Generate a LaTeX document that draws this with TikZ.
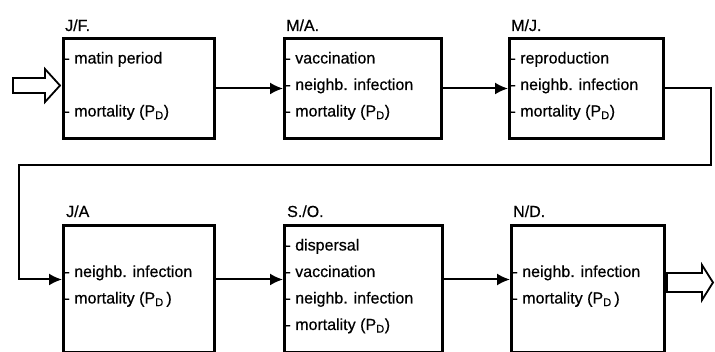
\documentclass[tikz,border=0pt]{standalone}
\usepackage{fontspec}
\setmainfont{Liberation Sans}
\newfontfamily\txtfont{Liberation Sans}[FakeBold=0.5]
\usetikzlibrary{arrows.meta}
\newcommand\bxtext[3]{\parbox[c][#2pt][t]{#1pt}{\txtfont\fontsize{16}{26.5}\selectfont\rule{0pt}{25pt}\hspace{1pt}#3}}
\newcommand\PD{(P\textsubscript{D})}
\tikzset{
  box/.style={draw, line width=3pt, inner sep=0pt, anchor=north west},
  lab/.style={anchor=base west, inner sep=0pt, font=\txtfont\fontsize{16}{16}\selectfont},
  conn/.style={line width=2pt, -{Latex[length=13pt,width=12pt]}},
  fat/.style={draw, line width=1.8pt, fill=white, line join=miter},
}
\begin{document}
\begin{tikzpicture}[x=1pt,y=-1pt]
\fill[white] (0,0) rectangle (715,352);
\useasboundingbox (0,0) rectangle (715,352);
% top row
\node[box] (b1) at (62,37) {\bxtext{151}{100}{- matin period\\ \mbox{}\\ \hspace*{1pt}- mortality \PD}};
\node[box] (b2) at (283,37) {\bxtext{157}{100}{- vaccination\\ \hspace*{1pt}- neighb. infection\\ \hspace*{1pt}- mortality \PD}};
\node[box] (b3) at (508,37) {\bxtext{154}{100}{- reproduction\\ \hspace*{1pt}- neighb. infection\\ \hspace*{1pt}- mortality \PD}};
% bottom row
\node[box] (b4) at (62,224) {\bxtext{151}{127}{\mbox{}\\ \hspace*{1pt}- neighb. infection\\ \hspace*{1pt}- mortality (P\textsubscript{D}\,)}};
\node[box] (b5) at (283,224) {\bxtext{158}{127}{- dispersal\\ \hspace*{1pt}- vaccination\\ \hspace*{1pt}- neighb. infection\\ \hspace*{1pt}- mortality \PD}};
\node[box] (b6) at (510,224) {\bxtext{153}{127}{\mbox{}\\ \hspace*{1pt}- neighb. infection\\ \hspace*{1pt}- mortality (P\textsubscript{D}\,)}};
% labels
\node[lab] (l1) at ([xshift=3pt,yshift=6pt]b1.north west) {J/F.};
\node[lab] (l2) at ([xshift=3pt,yshift=6pt]b2.north west) {M/A.};
\node[lab] (l3) at ([xshift=3pt,yshift=6pt]b3.north west) {M/J.};
\node[lab] (l4) at ([xshift=4pt,yshift=7pt]b4.north west) {J/A};
\node[lab] (l5) at ([xshift=4pt,yshift=7pt]b5.north west) {S./O.};
\node[lab] (l6) at ([xshift=3pt,yshift=7pt]b6.north west) {N/D.};
% connectors
\draw[conn] (b1.east) -- (b2.west);
\draw[conn] (b2.east) -- (b3.west);
\coordinate (c1) at (711,165);
\coordinate (c2) at (19,165);
\draw[conn] (b3.east) -| (c1) -- (c2) |- ([yshift=9.5pt]b4.west);
\draw[conn] ([yshift=9.5pt]b4.east) -- ([yshift=9.5pt]b5.west);
\draw[conn] ([yshift=9.5pt]b5.east) -- ([yshift=9.5pt]b6.west);
% open arrows
\path[fat] (13,78) -- (45,78) -- (45,69) -- (60,85.5) -- (45,102) -- (45,93) -- (13,93) -- cycle;
\path[fat] (667,273) -- (702,273) -- (702,265) -- (713,282.5) -- (702,300) -- (702,292) -- (667,292) -- cycle;
\end{tikzpicture}
\end{document}
